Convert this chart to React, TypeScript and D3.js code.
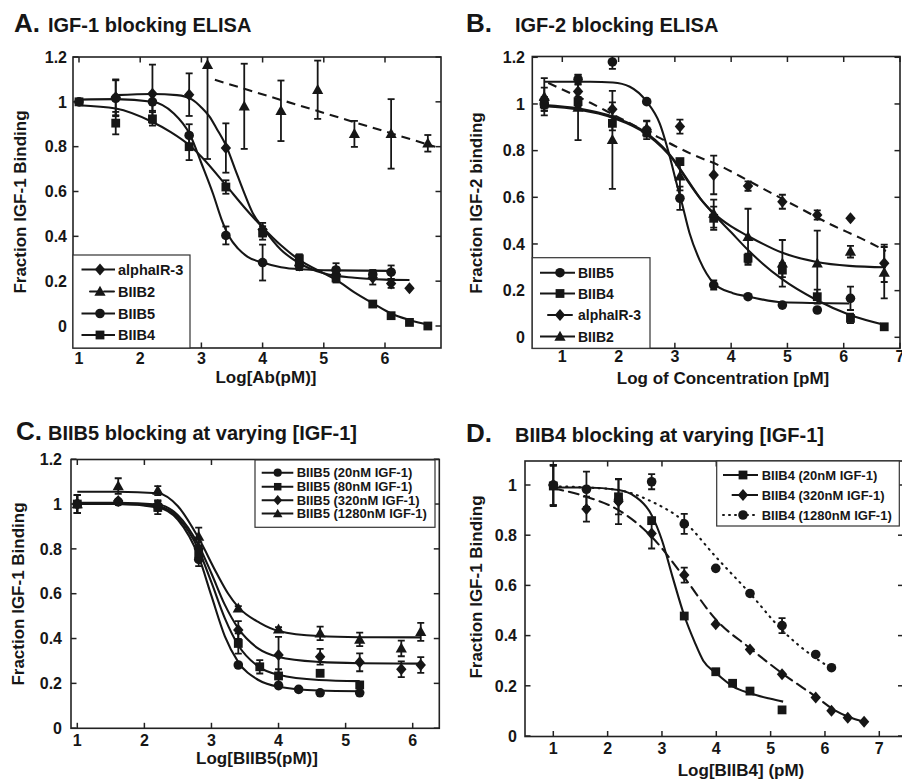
import React from "react";
import * as d3 from "d3";

// ================= DATA =================
// ---- Panel A: IGF-1 blocking ELISA ----
const A_alpha_x = [1.6, 2.2, 2.8, 3.4, 4.0, 4.6, 5.2, 5.8, 6.1, 6.4];
const A_alpha_y = [1.02, 1.036, 1.032, 0.794, 0.43, 0.27, 0.23, 0.215, 0.19, 0.168];
const A_alpha_err = [0.08, 0.13, 0.095, 0.11, 0.03, 0.02, 0.03, 0.03, 0.02, 0];
const A_alpha_fit: [number, number][] = [[1.6, 1.03], [2.2, 1.035], [2.6, 1.03], [2.85, 1.01], [3.0, 0.975], [3.13, 0.935], [3.25, 0.88], [3.41, 0.8], [3.55, 0.7], [3.68, 0.607], [3.84, 0.503], [4.0, 0.44], [4.3, 0.34], [4.6, 0.28], [5.0, 0.235], [5.5, 0.215], [6.0, 0.207], [6.4, 0.205]];

const A_b2_x = [3.1, 3.7, 4.3, 4.9, 5.5, 6.1, 6.7];
const A_b2_y = [1.165, 0.98, 0.96, 1.054, 0.857, 0.857, 0.815];
const A_b2_err = [0.42, 0.19, 0.135, 0.13, 0.058, 0.155, 0.037];
const A_b2_fit: [number, number][] = [[3.22, 1.098], [6.82, 0.8]];

const A_b5_x = [1, 1.6, 2.2, 2.8, 3.4, 4.0, 4.6, 5.2, 5.8, 6.1];
const A_b5_y = [1.0, 1.016, 1.0, 0.85, 0.404, 0.283, 0.27, 0.25, 0.23, 0.24];
const A_b5_err = [0, 0.08, 0.04, 0.05, 0.04, 0.08, 0.02, 0.03, 0.02, 0.03];
const A_b5_fit: [number, number][] = [[1, 1.01], [1.6, 1.012], [2.2, 1.0], [2.54, 0.95], [2.81, 0.855], [3.0, 0.726], [3.19, 0.59], [3.33, 0.475], [3.45, 0.4], [3.6, 0.345], [3.75, 0.31], [4.0, 0.283], [4.3, 0.262], [4.61, 0.253], [5.2, 0.248], [6.1, 0.246]];

const A_b4_x = [1, 1.6, 2.2, 2.8, 3.4, 4.0, 4.6, 5.2, 5.8, 6.1, 6.4, 6.7];
const A_b4_y = [1.0, 0.905, 0.924, 0.8, 0.62, 0.415, 0.3, 0.214, 0.098, 0.046, 0.016, 0.0];
const A_b4_err = [0, 0.05, 0.03, 0.06, 0.03, 0.03, 0.02, 0.02, 0, 0, 0, 0];
const A_b4_fit: [number, number][] = [[1, 0.985], [1.6, 0.97], [2.2, 0.91], [2.5, 0.865], [2.81, 0.805], [3.0, 0.755], [3.41, 0.625], [3.7, 0.53], [3.99, 0.443], [4.3, 0.36], [4.6, 0.295], [5.0, 0.235], [5.21, 0.205], [5.5, 0.15], [5.81, 0.1], [6.09, 0.057], [6.4, 0.027], [6.75, 0.003]];

// ---- Panel B: IGF-2 blocking ELISA ----
const B_x = [0.68, 1.28, 1.89, 2.5, 3.09, 3.69, 4.3, 4.91, 5.53, 6.12, 6.72];
const B_b5_x = [0.68, 1.28, 1.89, 2.5, 3.09, 3.69, 4.3, 4.91, 5.53, 6.12];
const B_b5_y = [1.0, 1.106, 1.18, 1.01, 0.596, 0.224, 0.174, 0.138, 0.117, 0.167];
const B_b5_err = [0.02, 0.02, 0.03, 0, 0.05, 0.02, 0, 0, 0, 0.05];
const B_b5_fit: [number, number][] = [[0.68, 1.095], [1.5, 1.095], [1.9, 1.092], [2.2, 1.074], [2.5, 1.01], [2.73, 0.917], [2.91, 0.774], [3.03, 0.66], [3.12, 0.58], [3.26, 0.447], [3.44, 0.331], [3.69, 0.232], [4.03, 0.189], [4.3, 0.175], [4.91, 0.15], [6.1, 0.145]];

const B_b4_y = [1.0, 1.01, 0.917, 0.88, 0.753, 0.51, 0.339, 0.288, 0.174, 0.081, 0.045];
const B_b4_err = [0.03, 0.02, 0.03, 0.02, 0, 0.05, 0.02, 0.03, 0.03, 0.02, 0];
const B_b4_fit: [number, number][] = [[0.68, 0.995], [1.3, 0.98], [1.9, 0.945], [2.5, 0.875], [2.97, 0.765], [3.1, 0.72], [3.5, 0.58], [3.7, 0.525], [4.0, 0.45], [4.3, 0.374], [4.9, 0.25], [5.5, 0.162], [6.1, 0.097], [6.75, 0.052]];

const B_alpha_y = [1.02, 1.053, 0.977, 0.889, 0.903, 0.696, 0.648, 0.581, 0.524, 0.51, 0.317];
const B_alpha_err = [0.05, 0.03, 0.03, 0.04, 0.03, 0.083, 0.02, 0.03, 0.02, 0, 0.08];
const B_alpha_fit: [number, number][] = [[0.75, 1.09], [1.2, 1.04], [1.5, 1.005], [1.9, 0.955], [2.3, 0.905], [2.7, 0.858], [3.0, 0.82], [3.3, 0.785], [3.8, 0.735], [4.3, 0.672], [4.7, 0.62], [5.2, 0.556], [5.8, 0.48], [6.3, 0.425], [6.75, 0.37]];

const B_b2_y = [1.031, 0.985, 0.846, 0.896, 0.69, 0.53, 0.431, 0.317, 0.317, 0.367, 0.277];
const B_b2_err = [0.08, 0.14, 0.21, 0.03, 0.06, 0.06, 0.12, 0.1, 0.14, 0.025, 0.11];
const B_b2_fit: [number, number][] = [[0.68, 0.99], [1.3, 0.975], [1.9, 0.94], [2.5, 0.87], [2.97, 0.76], [3.1, 0.715], [3.5, 0.58], [3.7, 0.53], [4.0, 0.475], [4.3, 0.434], [4.9, 0.363], [5.5, 0.324], [6.1, 0.306], [6.75, 0.3]];

// ---- Panel C: BIIB5 at varying IGF-1 ----
const C_20_x = [1, 1.61, 2.2, 2.81, 3.4, 4.0, 4.3, 4.62, 5.21];
const C_20_y = [1.0, 1.01, 0.99, 0.753, 0.282, 0.19, 0.173, 0.158, 0.158];
const C_20_err = [0.04, 0, 0.02, 0.03, 0, 0, 0, 0, 0];
const C_20_fit: [number, number][] = [[1, 1.0], [1.6, 1.0], [2.2, 0.985], [2.5, 0.93], [2.81, 0.765], [3.0, 0.59], [3.2, 0.41], [3.4, 0.295], [3.7, 0.215], [4.0, 0.185], [4.6, 0.168], [5.21, 0.165]];

const C_80_x = [1, 2.2, 2.81, 3.4, 3.72, 4.0, 4.62, 5.21];
const C_80_y = [1.0, 0.985, 0.78, 0.378, 0.274, 0.233, 0.245, 0.193];
const C_80_err = [0.04, 0.03, 0.03, 0.045, 0.03, 0.03, 0, 0];
const C_80_fit: [number, number][] = [[1, 1.0], [1.6, 1.0], [2.2, 0.99], [2.5, 0.94], [2.81, 0.795], [3.0, 0.65], [3.2, 0.49], [3.4, 0.37], [3.7, 0.275], [4.0, 0.238], [4.6, 0.215], [5.21, 0.21]];

const C_320_x = [1, 1.61, 2.2, 2.81, 3.4, 4.0, 4.62, 5.21, 5.83, 6.12];
const C_320_y = [1.0, 1.013, 0.996, 0.8, 0.438, 0.327, 0.319, 0.294, 0.263, 0.282];
const C_320_err = [0.04, 0, 0.02, 0.03, 0.04, 0.08, 0.035, 0.04, 0.035, 0.035];
const C_320_fit: [number, number][] = [[1, 1.005], [1.6, 1.005], [2.2, 0.998], [2.5, 0.95], [2.81, 0.815], [3.0, 0.69], [3.2, 0.55], [3.4, 0.445], [3.7, 0.355], [4.0, 0.318], [4.6, 0.296], [5.2, 0.29], [6.12, 0.288]];

const C_1280_x = [1, 1.61, 2.2, 2.81, 3.4, 4.0, 4.62, 5.21, 5.83, 6.12];
const C_1280_y = [1.0, 1.08, 1.06, 0.855, 0.535, 0.441, 0.423, 0.396, 0.356, 0.43];
const C_1280_err = [0.04, 0.035, 0.02, 0.04, 0.01, 0.01, 0.03, 0.03, 0.035, 0.04];
const C_1280_fit: [number, number][] = [[1, 1.055], [1.6, 1.055], [2.2, 1.048], [2.5, 0.99], [2.81, 0.847], [3.08, 0.69], [3.25, 0.6], [3.4, 0.54], [3.72, 0.47], [4.0, 0.434], [4.6, 0.411], [5.2, 0.406], [6.12, 0.405]];

// ---- Panel D: BIIB4 at varying IGF-1 ----
const D_20_x = [1, 2.2, 2.81, 3.41, 3.99, 4.3, 4.62, 5.21];
const D_20_y = [0.996, 0.953, 0.858, 0.478, 0.256, 0.21, 0.179, 0.104];
const D_20_err = [0.08, 0.07, 0, 0, 0, 0, 0, 0];
const D_20_fit: [number, number][] = [[1, 0.99], [1.6, 0.99], [2.2, 0.98], [2.5, 0.955], [2.81, 0.88], [3.0, 0.78], [3.2, 0.63], [3.41, 0.48], [3.6, 0.375], [3.76, 0.3], [4.0, 0.25], [4.31, 0.197], [4.62, 0.17], [5.0, 0.148], [5.23, 0.137]];

const D_320_x = [1, 1.61, 2.2, 2.81, 3.41, 3.99, 4.62, 5.21, 5.83, 6.12, 6.42, 6.72];
const D_320_y = [1.0, 0.904, 0.934, 0.807, 0.641, 0.445, 0.345, 0.246, 0.153, 0.101, 0.073, 0.057];
const D_320_err = [0.08, 0.05, 0.09, 0.06, 0.03, 0, 0, 0, 0, 0, 0, 0];
const D_320_fit: [number, number][] = [[1, 0.987], [1.61, 0.953], [2.2, 0.9], [2.81, 0.794], [3.4, 0.635], [4.0, 0.462], [4.62, 0.35], [5.21, 0.25], [5.83, 0.157], [6.2, 0.1], [6.72, 0.057]];

const D_1280_x = [1, 1.61, 2.2, 2.81, 3.41, 3.99, 4.62, 5.21, 5.83, 6.12];
const D_1280_y = [1.0, 0.983, 0.94, 1.013, 0.845, 0.668, 0.568, 0.44, 0.325, 0.272];
const D_1280_err = [0.08, 0.07, 0, 0.03, 0.04, 0, 0, 0.03, 0, 0];
const D_1280_fit: [number, number][] = [[1, 0.995], [1.61, 0.99], [2.2, 0.98], [2.81, 0.934], [3.41, 0.854], [3.99, 0.714], [4.62, 0.568], [5.21, 0.422], [5.83, 0.31], [6.12, 0.27]];

// ---- tick values ----
const ticksX6 = [1, 2, 3, 4, 5, 6];
const ticksX7 = [1, 2, 3, 4, 5, 6, 7];
const ticksY12 = [0, 0.2, 0.4, 0.6, 0.8, 1, 1.2];
const ticksY10 = [0, 0.2, 0.4, 0.6, 0.8, 1];

// ================= RENDERING =================
const INK = "#161616";
const FONT = "'Liberation Sans', Arial, Helvetica, sans-serif";

type MarkerType = "square" | "circle" | "diamond" | "triangle";
type Series = {
  name: string;
  xs: number[];
  ys: number[];
  errs: number[];
  marker: MarkerType;
  fit: [number, number][];
  dash?: string;
  legendDash?: string;
  legendStart?: number;
};

function Marker({ type, x, y, s = 1 }: { type: MarkerType; x: number; y: number; s?: number }) {
  if (type === "square") return <rect x={x - 4.4 * s} y={y - 4.4 * s} width={8.8 * s} height={8.8 * s} fill={INK} />;
  if (type === "circle") return <circle cx={x} cy={y} r={4.8 * s} fill={INK} />;
  if (type === "diamond")
    return <path d={`M${x},${y - 6 * s}L${x + 5.2 * s},${y}L${x},${y + 6 * s}L${x - 5.2 * s},${y}Z`} fill={INK} />;
  return <path d={`M${x},${y - 5.8 * s}L${x + 5.6 * s},${y + 4.2 * s}L${x - 5.6 * s},${y + 4.2 * s}Z`} fill={INK} />;
}

type PanelCfg = {
  id: string;
  frame: { l: number; r: number; t: number; b: number };
  xDom: [number, number];
  xRange: [number, number];
  yDom: [number, number];
  yRange: [number, number];
  xTicks: number[];
  yTicks: number[];
  xLabelY: number;
  yLabelX: number;
  xTitle: string;
  xTitleX: number;
  xTitleY: number;
  yTitle: string;
  yTitleX: number;
  yTitleY: number;
  letter: string;
  letterX: number;
  title: string;
  titleX: number;
  titleY: number;
  series: Series[];
  legend: {
    box: [number, number, number, number];
    order: number[];
    rows: number[];
    lineX: [number, number];
    markerX: number;
    textX: number;
    fontSize: number;
    ms: number;
  };
};

function Panel({ cfg }: { cfg: PanelCfg }) {
  const x = d3.scaleLinear().domain(cfg.xDom).range(cfg.xRange);
  const y = d3.scaleLinear().domain(cfg.yDom).range(cfg.yRange);
  const line = d3
    .line<[number, number]>()
    .x((d) => x(d[0]))
    .y((d) => y(d[1]))
    .curve(d3.curveMonotoneX);
  const { l, r, t, b } = cfg.frame;
  const tl = 5.5;
  const fmt = (v: number) => String(Math.round(v * 10) / 10);
  const lg = cfg.legend;
  return (
    <g>
      <defs>
        <clipPath id={`clip-${cfg.id}`}>
          <rect x={l} y={t} width={r - l} height={b - t} />
        </clipPath>
      </defs>
      {/* title */}
      <text x={cfg.letterX} y={cfg.titleY} fontFamily={FONT} fontWeight="bold" fontSize={26} fill={INK}>
        {cfg.letter}
      </text>
      <text x={cfg.titleX} y={cfg.titleY} fontFamily={FONT} fontWeight="bold" fontSize={20} fill={INK}>
        {cfg.title}
      </text>
      {/* frame */}
      <rect x={l} y={t} width={r - l} height={b - t} fill="none" stroke="#222" strokeWidth={1.6} />
      {/* ticks */}
      {cfg.xTicks.map((v) => (
        <g key={`xt${v}`}>
          <line x1={x(v)} x2={x(v)} y1={b} y2={b - tl} stroke="#222" strokeWidth={1.5} />
          <line x1={x(v)} x2={x(v)} y1={t} y2={t + tl} stroke="#222" strokeWidth={1.5} />
          <text x={x(v)} y={cfg.xLabelY} textAnchor="middle" fontFamily={FONT} fontWeight="bold" fontSize={16} fill={INK}>
            {fmt(v)}
          </text>
        </g>
      ))}
      {cfg.yTicks.map((v) => (
        <g key={`yt${v}`}>
          <line x1={l} x2={l + tl} y1={y(v)} y2={y(v)} stroke="#222" strokeWidth={1.5} />
          <line x1={r} x2={r - tl} y1={y(v)} y2={y(v)} stroke="#222" strokeWidth={1.5} />
          <text x={cfg.yLabelX} y={y(v)} dy="0.36em" textAnchor="end" fontFamily={FONT} fontWeight="bold" fontSize={16} fill={INK}>
            {fmt(v)}
          </text>
        </g>
      ))}
      {/* axis titles */}
      <text x={cfg.xTitleX} y={cfg.xTitleY} textAnchor="middle" fontFamily={FONT} fontWeight="bold" fontSize={17} fill={INK}>
        {cfg.xTitle}
      </text>
      <text
        transform={`translate(${cfg.yTitleX},${cfg.yTitleY}) rotate(-90)`}
        textAnchor="middle"
        fontFamily={FONT}
        fontWeight="bold"
        fontSize={17}
        fill={INK}
      >
        {cfg.yTitle}
      </text>
      {/* fits */}
      <g clipPath={`url(#clip-${cfg.id})`}>
        {cfg.series.map((s) => (
          <path
            key={`fit-${s.name}`}
            d={line(s.fit) || ""}
            fill="none"
            stroke={INK}
            strokeWidth={2.1}
            strokeDasharray={s.dash}
            strokeLinecap={s.dash && s.dash.startsWith("1") ? "round" : "butt"}
          />
        ))}
        {cfg.series.map((s) =>
          s.xs.map((xv, i) =>
            s.errs[i] > 0 ? (
              <g key={`err-${s.name}-${i}`} stroke={INK} strokeWidth={1.8}>
                <line x1={x(xv)} x2={x(xv)} y1={y(s.ys[i] - s.errs[i])} y2={y(s.ys[i] + s.errs[i])} />
                <line x1={x(xv) - 3.5} x2={x(xv) + 3.5} y1={y(s.ys[i] - s.errs[i])} y2={y(s.ys[i] - s.errs[i])} />
                <line x1={x(xv) - 3.5} x2={x(xv) + 3.5} y1={y(s.ys[i] + s.errs[i])} y2={y(s.ys[i] + s.errs[i])} />
              </g>
            ) : null
          )
        )}
      </g>
      {/* markers */}
      {cfg.series.map((s) =>
        s.xs.map((xv, i) => <Marker key={`m-${s.name}-${i}`} type={s.marker} x={x(xv)} y={y(s.ys[i])} />)
      )}
      {/* legend */}
      <rect
        x={lg.box[0]}
        y={lg.box[1]}
        width={lg.box[2] - lg.box[0]}
        height={lg.box[3] - lg.box[1]}
        fill="white"
        stroke="#333"
        strokeWidth={1.2}
      />
      {lg.order.map((si, k) => {
        const s = cfg.series[si];
        const ry = lg.rows[k];
        return (
          <g key={`lg-${s.name}`}>
            <line
              x1={s.legendStart ?? lg.lineX[0]}
              x2={lg.lineX[1]}
              y1={ry}
              y2={ry}
              stroke={INK}
              strokeWidth={2}
              strokeDasharray={s.legendDash}
              strokeLinecap={s.legendDash && s.legendDash.startsWith("1") ? "round" : "butt"}
            />
            <Marker type={s.marker} x={lg.markerX} y={ry} s={lg.ms} />
            <text x={lg.textX} y={ry} dy="0.36em" fontFamily={FONT} fontWeight="bold" fontSize={lg.fontSize} fill={INK}>
              {s.name}
            </text>
          </g>
        );
      })}
    </g>
  );
}

const panelA: PanelCfg = {
  id: "A",
  frame: { l: 73, r: 441, t: 57, b: 348 },
  xDom: [1, 6],
  xRange: [79, 385],
  yDom: [0, 1.2],
  yRange: [326, 57],
  xTicks: ticksX6,
  yTicks: ticksY12,
  xLabelY: 364,
  yLabelX: 67,
  xTitle: "Log[Ab(pM)]",
  xTitleX: 266,
  xTitleY: 383,
  yTitle: "Fraction IGF-1 Binding",
  yTitleX: 26,
  yTitleY: 202,
  letter: "A.",
  letterX: 14,
  title: "IGF-1 blocking ELISA",
  titleX: 48,
  titleY: 32,
  series: [
    { name: "alphaIR-3", xs: A_alpha_x, ys: A_alpha_y, errs: A_alpha_err, marker: "diamond", fit: A_alpha_fit },
    { name: "BIIB2", xs: A_b2_x, ys: A_b2_y, errs: A_b2_err, marker: "triangle", fit: A_b2_fit, dash: "9,6", legendDash: "10,4", legendStart: 90 },
    { name: "BIIB5", xs: A_b5_x, ys: A_b5_y, errs: A_b5_err, marker: "circle", fit: A_b5_fit },
    { name: "BIIB4", xs: A_b4_x, ys: A_b4_y, errs: A_b4_err, marker: "square", fit: A_b4_fit },
  ],
  legend: {
    box: [73, 255, 190, 348],
    order: [0, 1, 2, 3],
    rows: [269.5, 291.5, 313.5, 335],
    lineX: [81.5, 115],
    markerX: 100,
    textX: 118,
    fontSize: 14.5,
    ms: 1,
  },
};

const panelB: PanelCfg = {
  id: "B",
  frame: { l: 532.3, r: 900, t: 56.5, b: 348.3 },
  xDom: [1, 7],
  xRange: [562.3, 900],
  yDom: [0, 1.2],
  yRange: [337.3, 57.3],
  xTicks: ticksX7,
  yTicks: ticksY12,
  xLabelY: 362,
  yLabelX: 525,
  xTitle: "Log of Concentration [pM]",
  xTitleX: 723,
  xTitleY: 384,
  yTitle: "Fraction IGF-2 binding",
  yTitleX: 482,
  yTitleY: 203,
  letter: "B.",
  letterX: 466,
  title: "IGF-2 blocking ELISA",
  titleX: 515,
  titleY: 32,
  series: [
    { name: "BIIB5", xs: B_b5_x, ys: B_b5_y, errs: B_b5_err, marker: "circle", fit: B_b5_fit },
    { name: "BIIB4", xs: B_x, ys: B_b4_y, errs: B_b4_err, marker: "square", fit: B_b4_fit },
    { name: "alphaIR-3", xs: B_x, ys: B_alpha_y, errs: B_alpha_err, marker: "diamond", fit: B_alpha_fit, dash: "9,6", legendDash: "10,4", legendStart: 548 },
    { name: "BIIB2", xs: B_x, ys: B_b2_y, errs: B_b2_err, marker: "triangle", fit: B_b2_fit },
  ],
  legend: {
    box: [532.3, 257.7, 650, 348.3],
    order: [0, 1, 2, 3],
    rows: [272.7, 293.5, 315, 336.5],
    lineX: [540, 575],
    markerX: 560,
    textX: 578,
    fontSize: 14,
    ms: 1,
  },
};

const panelC: PanelCfg = {
  id: "C",
  frame: { l: 71, r: 439.3, t: 459.5, b: 728.3 },
  xDom: [1, 6],
  xRange: [77.3, 412.7],
  yDom: [0, 1.2],
  yRange: [728.2, 459.2],
  xTicks: ticksX6,
  yTicks: ticksY12,
  xLabelY: 746,
  yLabelX: 62,
  xTitle: "Log[BIIB5(pM)]",
  xTitleX: 257,
  xTitleY: 764,
  yTitle: "Fraction IGF-1 Binding",
  yTitleX: 24,
  yTitleY: 594,
  letter: "C.",
  letterX: 16,
  title: "BIIB5 blocking at varying [IGF-1]",
  titleX: 48,
  titleY: 440,
  series: [
    { name: "BIIB5 (20nM IGF-1)", xs: C_20_x, ys: C_20_y, errs: C_20_err, marker: "circle", fit: C_20_fit },
    { name: "BIIB5 (80nM IGF-1)", xs: C_80_x, ys: C_80_y, errs: C_80_err, marker: "square", fit: C_80_fit },
    { name: "BIIB5 (320nM IGF-1)", xs: C_320_x, ys: C_320_y, errs: C_320_err, marker: "diamond", fit: C_320_fit },
    { name: "BIIB5 (1280nM IGF-1)", xs: C_1280_x, ys: C_1280_y, errs: C_1280_err, marker: "triangle", fit: C_1280_fit },
  ],
  legend: {
    box: [255, 460, 435, 527.3],
    order: [0, 1, 2, 3],
    rows: [472.7, 486.7, 500.2, 513.6],
    lineX: [261.7, 293.3],
    markerX: 277.7,
    textX: 296.7,
    fontSize: 13,
    ms: 0.85,
  },
};

const panelD: PanelCfg = {
  id: "D",
  frame: { l: 525, r: 903.5, t: 461, b: 736.5 },
  xDom: [1, 7],
  xRange: [553.3, 879.3],
  yDom: [0, 1],
  yRange: [736, 485],
  xTicks: ticksX7,
  yTicks: ticksY10,
  xLabelY: 754,
  yLabelX: 517,
  xTitle: "Log[BIIB4] (pM)",
  xTitleX: 741,
  xTitleY: 776,
  yTitle: "Fraction IGF-1 Binding",
  yTitleX: 482,
  yTitleY: 587,
  letter: "D.",
  letterX: 466,
  title: "BIIB4 blocking at varying [IGF-1]",
  titleX: 515,
  titleY: 442,
  series: [
    { name: "BIIB4 (20nM IGF-1)", xs: D_20_x, ys: D_20_y, errs: D_20_err, marker: "square", fit: D_20_fit },
    { name: "BIIB4 (320nM IGF-1)", xs: D_320_x, ys: D_320_y, errs: D_320_err, marker: "diamond", fit: D_320_fit, dash: "10,6", legendStart: 731.7 },
    { name: "BIIB4 (1280nM IGF-1)", xs: D_1280_x, ys: D_1280_y, errs: D_1280_err, marker: "circle", fit: D_1280_fit, dash: "1,5.5", legendDash: "1,5" },
  ],
  legend: {
    box: [716.7, 461, 899.3, 526],
    order: [0, 1, 2],
    rows: [475, 495, 515],
    lineX: [723, 758],
    markerX: 743,
    textX: 761.7,
    fontSize: 13,
    ms: 1,
  },
};

export default function App() {
  return (
    <svg
      width={902}
      height={781}
      viewBox="0 0 902 781"
      style={{ position: "absolute", left: 0, top: 0, background: "white" }}
    >
      <rect x={0} y={0} width={902} height={781} fill="white" />
      <Panel cfg={panelA} />
      <Panel cfg={panelB} />
      <Panel cfg={panelC} />
      <Panel cfg={panelD} />
    </svg>
  );
}
